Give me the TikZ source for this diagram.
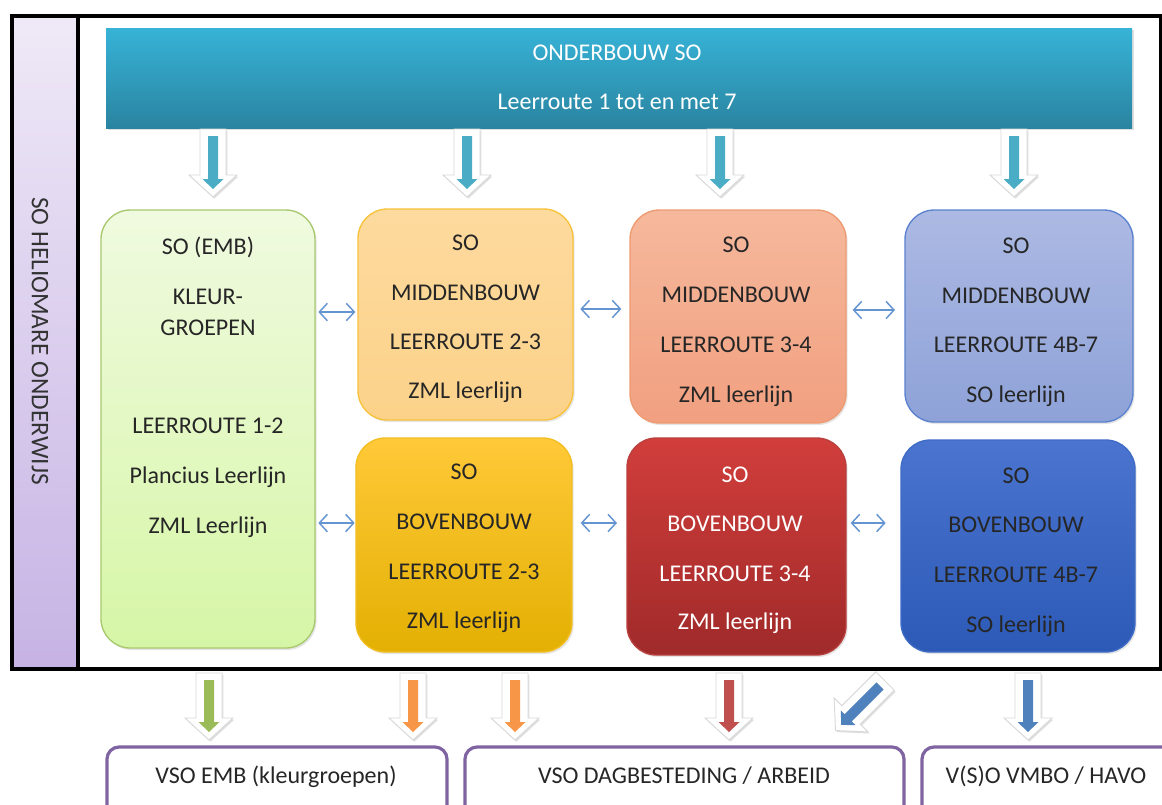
\documentclass[tikz,border=0pt]{standalone}
\usepackage{fontspec}
\setmainfont{Carlito}
\usetikzlibrary{shadows,arrows.meta}
\definecolor{textc}{HTML}{262626}
\definecolor{arrtop}{HTML}{4BACC6}
\definecolor{agreen}{HTML}{9BBB59}
\definecolor{aorange}{HTML}{F79646}
\definecolor{ared}{HTML}{C0504D}
\definecolor{ablue}{HTML}{4F81BD}
\definecolor{dblc}{HTML}{6495D0}
\definecolor{purp}{HTML}{8064A2}
\definecolor{gTop}{HTML}{F0FAE0}\definecolor{gBot}{HTML}{D6F6A6}\definecolor{gBor}{HTML}{A8C86E}
\definecolor{oTop}{HTML}{FDDA9E}\definecolor{oBot}{HTML}{FCD28A}\definecolor{oBor}{HTML}{F8C23A}
\definecolor{goTop}{HTML}{FFC938}\definecolor{goBot}{HTML}{E3B003}\definecolor{goBor}{HTML}{F2BE20}
\definecolor{sTop}{HTML}{F6B89C}\definecolor{sBot}{HTML}{F1A080}\definecolor{sBor}{HTML}{EE9B72}
\definecolor{rTop}{HTML}{D13E3B}\definecolor{rBot}{HTML}{A02A2A}\definecolor{rBor}{HTML}{B8403D}
\definecolor{lTop}{HTML}{ACB9E3}\definecolor{lBot}{HTML}{8EA2D8}\definecolor{lBor}{HTML}{5A82CF}
\definecolor{bTop}{HTML}{4A74D0}\definecolor{bBot}{HTML}{2C5AB6}\definecolor{bBor}{HTML}{3E6BC6}
\definecolor{sideTop}{HTML}{EFE9F7}\definecolor{sideBot}{HTML}{C6B3E4}
\definecolor{banTop}{HTML}{37B3D7}\definecolor{banBot}{HTML}{2A84A0}

\newcommand\blkarrow[5]{%
\begin{scope}[shift={(#1,#2)},rotate=#3]
\filldraw[draw=black!15, fill=white, line width=0.7pt,
  drop shadow={opacity=0.25,shadow xshift=1pt,shadow yshift=-1.2pt}]
  (-13,0) -- (13,0) -- (13,#4-22) -- (24,#4-22) -- (0,#4) -- (-24,#4-22) -- (-13,#4-22) -- cycle;
\fill[#5] (-5,7) -- (5,7) -- (5,#4-18) -- (10.5,#4-18) -- (0,#4-8) -- (-10.5,#4-18) -- (-5,#4-18) -- cycle;
\end{scope}}

\begin{document}
\begin{tikzpicture}[x=0.75pt,y=-0.75pt,
  txt/.style={font=\fontsize{18}{20}\selectfont, text=textc, anchor=base, inner sep=0pt},
  wtxt/.style={txt, text=white},
  colbox/.style={rectangle, rounded corners=22pt, line width=1pt, inner sep=0pt,
     drop shadow={opacity=0.2,shadow xshift=1.2pt,shadow yshift=-1.5pt}},
  outbox/.style={rectangle, rounded corners=9pt, draw=purp, line width=2.4pt, fill=white, inner sep=0pt},
  dbl/.style={draw=dblc, line width=1.1pt, {Straight Barb[length=6pt,width=13pt]}-{Straight Barb[length=6pt,width=13pt]}}
]
\clip (0,0) rectangle (1162,804);
\fill[white] (0,0) rectangle (1162,804);

% frame and side bar
\draw[line width=2.8pt, top color=sideTop, bottom color=sideBot] (12,16) rectangle (78,669);
\draw[line width=2.8pt] (78,16) -- (1161,16) -- (1161,669) -- (78,669);
\node[rotate=-90, font=\fontsize{19}{21}\selectfont, text=black!80, inner sep=0pt] (side) at (40,341) {SO HELIOMARE ONDERWIJS};

% banner
\node[rectangle, minimum width=769.5pt, minimum height=75pt, inner sep=0pt,
  top color=banTop, bottom color=banBot,
  drop shadow={opacity=0.25,shadow xshift=1.5pt,shadow yshift=-1.5pt}] (banner) at (619,78) {};
\node[wtxt] (ban1) at (617,60) {ONDERBOUW SO};
\node[wtxt] (ban2) at (617,109) {Leerroute 1 tot en met 7};

% top block arrows
\blkarrow{213}{129}{0}{68}{arrtop}
\blkarrow{467}{129}{0}{68}{arrtop}
\blkarrow{720}{129}{0}{68}{arrtop}
\blkarrow{1014}{129}{0}{68}{arrtop}

% column boxes
\node[colbox, draw=gBor, top color=gTop, bottom color=gBot, minimum width=160.5pt, minimum height=328.5pt] (emb) at (208,429) {};
\node[colbox, draw=oBor, top color=oTop, bottom color=oBot, minimum width=161.25pt, minimum height=158.25pt] (mid23) at (465.5,314.5) {};
\node[colbox, draw=goBor, top color=goTop, bottom color=goBot, minimum width=162pt, minimum height=160.5pt] (bov23) at (464,545) {};
\node[colbox, draw=sBor, top color=sTop, bottom color=sBot, minimum width=162pt, minimum height=159.75pt] (mid34) at (738,316.5) {};
\node[colbox, draw=rBor, top color=rTop, bottom color=rBot, minimum width=164.25pt, minimum height=162.75pt] (bov34) at (736.5,546.5) {};
\node[colbox, draw=lBor, top color=lTop, bottom color=lBot, minimum width=171pt, minimum height=159pt] (mid47) at (1019,316) {};
\node[colbox, draw=bBor, top color=bTop, bottom color=bBot, minimum width=175.5pt, minimum height=159pt] (bov47) at (1018,546) {};

% texts
\foreach \n/\x/\y/\t in {e1/208/254/SO (EMB), e2/208/304/KLEUR-, e3/208/335/GROEPEN,
   e4/208/433/LEERROUTE 1-2, e5/208/483/Plancius Leerlijn, e6/208/533/ZML Leerlijn,
   a1/465.5/250/SO, a2/465.5/300/MIDDENBOUW, a3/465.5/349/LEERROUTE 2-3, a4/465.5/398/ZML leerlijn,
   b1/464/479/SO, b2/464/529/BOVENBOUW, b3/464/579/LEERROUTE 2-3, b4/464/628/ZML leerlijn,
   c1/736/252/SO, c2/736/302/MIDDENBOUW, c3/736/352/LEERROUTE 3-4, c4/736/402/ZML leerlijn,
   f1/1016/253/SO, f2/1016/303/MIDDENBOUW, f3/1016/352/LEERROUTE 4B-7, f4/1016/402/SO leerlijn,
   g1/1016/483/SO, g2/1016/532/BOVENBOUW, g3/1016/582/LEERROUTE 4B-7, g4/1016/632/SO leerlijn}
  \node[txt] (\n) at (\x,\y) {\t};
\foreach \n/\y/\t in {d1/482/SO, d2/531/BOVENBOUW, d3/581/LEERROUTE 3-4, d4/629/ZML leerlijn}
  \node[wtxt] (\n) at (735,\y) {\t};

% double arrows
\draw[dbl, shorten <=2pt, shorten >=1.5pt] (emb.east |- 0,312) -- (mid23.west |- 0,312);
\draw[dbl, shorten <=5pt, shorten >=6pt] (mid23.east |- 0,309) -- (mid34.west |- 0,309);
\draw[dbl, shorten <=4.5pt, shorten >=7pt] (mid34.east |- 0,310) -- (mid47.west |- 0,310);
\draw[dbl, shorten <=2pt, shorten >=0.5pt] (emb.east |- 0,523) -- (bov23.west |- 0,523);
\draw[dbl, shorten <=6pt, shorten >=7pt] (bov23.east |- 0,523) -- (bov34.west |- 0,523);
\draw[dbl, shorten <=3pt, shorten >=11pt] (bov34.east |- 0,523) -- (bov47.west |- 0,523);

% bottom block arrows
\blkarrow{209}{673}{0}{67}{agreen}
\blkarrow{413}{673}{0}{67}{aorange}
\blkarrow{515}{673}{0}{67}{aorange}
\blkarrow{729}{673}{0}{67}{ared}
\blkarrow{885}{681}{-45}{70}{ablue}
\blkarrow{1028}{673}{0}{67}{ablue}

% bottom boxes
\node[outbox, minimum width=255pt, minimum height=69.75pt] (vso1) at (277,793.5) {};
\node[outbox, minimum width=329.25pt, minimum height=69.75pt] (vso2) at (684.5,793.5) {};
\node[outbox, minimum width=223.5pt, minimum height=69.75pt] (vso3) at (1071,793.5) {};
\node[txt] (vt1) at (276,783) {VSO EMB (kleurgroepen)};
\node[txt] (vt2) at (684,783) {VSO DAGBESTEDING / ARBEID};
\node[txt] (vt3) at (1046,783) {V(S)O VMBO / HAVO};
\end{tikzpicture}
\end{document}
